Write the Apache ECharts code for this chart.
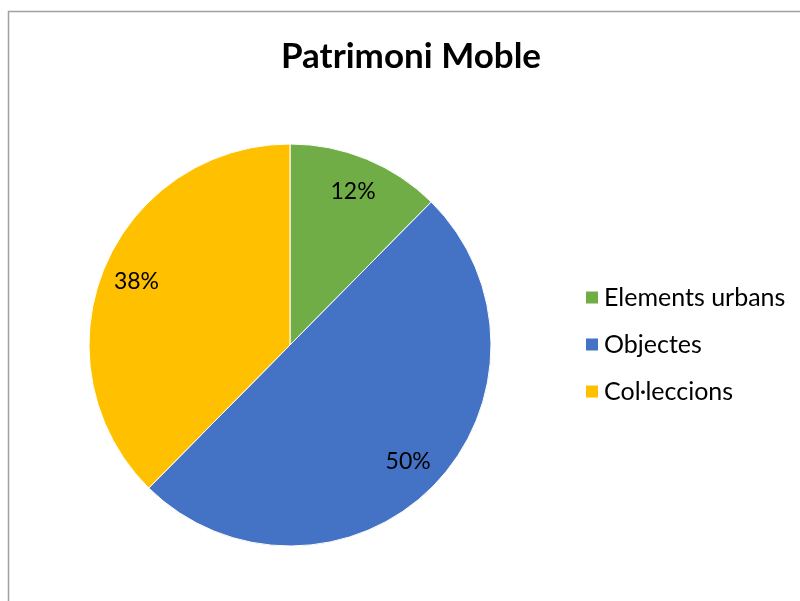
<!DOCTYPE html>
<html>
<head>
<meta charset="utf-8">
<script src="https://cdn.jsdelivr.net/npm/echarts@6/dist/echarts.min.js"></script>
<style>
html,body{margin:0;padding:0;background:#fff;}
#chart{width:800px;height:601px;}
</style>
</head>
<body>
<div id="chart"></div>
<script>
const titleText = 'Patrimoni Moble';
const categories = ['Elements urbans', 'Objectes', 'Col·leccions'];
const values = [12.4, 50, 37.6];
const colors = ['#70AD47', '#4472C4', '#FFC000'];

const FONT = 'Lato, "Open Sans", sans-serif';
const data = categories.map((name, i) => ({ name: name, value: values[i], itemStyle: { color: colors[i] } }));
const labelData = categories.map((name, i) => ({ name: name, value: values[i] }));

const chart = echarts.init(document.getElementById('chart'), null, { renderer: 'canvas' });
chart.setOption({
  backgroundColor: '#fff',
  animation: false,
  title: {
    text: titleText,
    left: 411,
    textAlign: 'center',
    top: 39,
    padding: 0,
    textStyle: { fontFamily: FONT, fontWeight: 'bold', fontSize: 35, color: '#000' }
  },
  legend: {
    orient: 'vertical',
    left: 584,
    top: 285,
    padding: 0,
    itemWidth: 14,
    itemHeight: 14,
    itemGap: 22,
    icon: 'rect',
    data: categories,
    selectedMode: false,
    textStyle: { fontFamily: FONT, fontSize: 25, lineHeight: 25, color: '#000' }
  },
  graphic: [{
    type: 'rect',
    shape: { x: 8.5, y: 11.5, width: 820, height: 620 },
    style: { fill: 'none', stroke: '#a0a0a0', lineWidth: 1.5 },
    silent: true,
    z: 100
  }],
  series: [{
    type: 'pie',
    center: [290, 345],
    radius: [0, 201],
    startAngle: 90,
    clockwise: true,
    data: data,
    label: { show: false },
    labelLine: { show: false },
    itemStyle: { borderColor: '#fff', borderWidth: 1 },
    emphasis: { disabled: true },
    silent: true
  }, {
    type: 'pie',
    name: 'labels',
    center: [290, 345],
    radius: [0, 326],
    startAngle: 90,
    clockwise: true,
    data: labelData,
    itemStyle: { color: 'rgba(0,0,0,0)' },
    label: {
      show: true,
      position: 'inside',
      fontFamily: FONT,
      fontSize: 23,
      color: '#000',
      formatter: p => Math.round(p.percent) + '%'
    },
    labelLine: { show: false },
    emphasis: { disabled: true },
    silent: true,
    z: 5
  }]
});
</script>
</body>
</html>
